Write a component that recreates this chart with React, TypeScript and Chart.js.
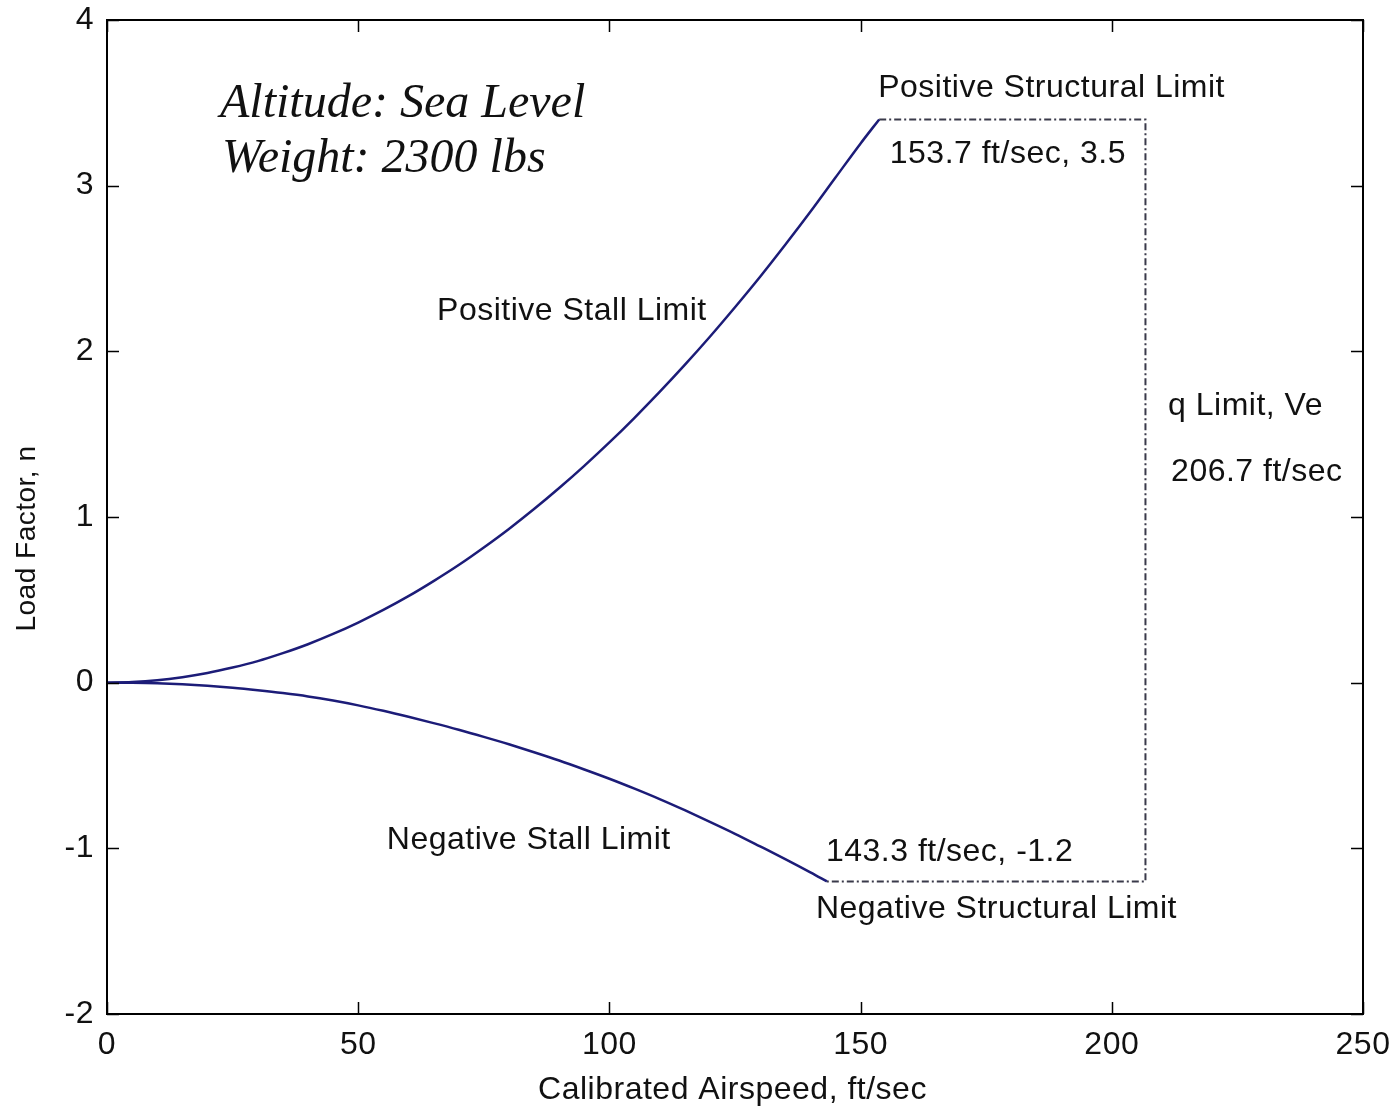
import React, { useEffect, useRef } from "react";
import { Chart, registerables } from "chart.js";

Chart.register(...registerables);

// Positive stall limit (airspeed ft/sec, load factor) as drawn in the picture
const posSpeed = [0, 5, 10, 15, 20, 25, 30, 35, 40, 45, 50, 55, 60, 65, 70, 75, 80, 85, 90, 95, 100, 105, 110, 115, 120, 125, 130, 135, 140, 145, 150, 153.7];
const posLoad = [0, 0.004, 0.0145, 0.033, 0.058, 0.091, 0.13, 0.178, 0.232, 0.294, 0.363, 0.439, 0.522, 0.613, 0.71, 0.816, 0.928, 1.048, 1.175, 1.309, 1.45, 1.599, 1.755, 1.918, 2.088, 2.266, 2.45, 2.643, 2.842, 3.049, 3.255, 3.4];

// Negative stall limit
const negSpeed = [0, 5, 10, 15, 20, 25, 30, 35, 40, 45, 50, 55, 60, 65, 70, 75, 80, 85, 90, 95, 100, 105, 110, 115, 120, 125, 130, 135, 140, 143.3];
const negLoad = [0, -0.001, -0.004, -0.01, -0.019, -0.031, -0.046, -0.063, -0.083, -0.108, -0.137, -0.17, -0.206, -0.244, -0.284, -0.327, -0.372, -0.42, -0.47, -0.524, -0.58, -0.64, -0.703, -0.77, -0.84, -0.912, -0.988, -1.065, -1.145, -1.2];

// Structural / q limit envelope
const limSpeed = [153.7, 206.7, 206.7, 143.3];
const limLoad = [3.4, 3.4, -1.2, -1.2];

const xTicks = [0, 50, 100, 150, 200, 250];
const yTicks = [-2, -1, 0, 1, 2, 3, 4];

// Annotation labels (data coordinates of left edge / vertical middle)
const labelTexts = [
  "Positive Structural Limit",
  "153.7 ft/sec, 3.5",
  "Positive Stall Limit",
  "q Limit, Ve",
  "206.7 ft/sec",
  "Negative Stall Limit",
  "143.3 ft/sec, -1.2",
  "Negative Structural Limit",
];
const labelX = [153.5, 155.8, 65.7, 211.2, 211.8, 55.7, 143.1, 141.1];
const labelY = [3.59, 3.19, 2.245, 1.666, 1.268, -0.948, -1.026, -1.37];

const noteTexts = ["Altitude: Sea Level", "Weight: 2300 lbs"];
const noteX = [22.5, 22.9];
const noteY = [3.49, 3.157];

const yTitle = "Load Factor, n";
const xTitle = "Calibrated Airspeed, ft/sec";

const SANS = "'Liberation Sans', Arial, sans-serif";
const SERIF = "'Liberation Serif', 'Times New Roman', serif";

const framePlugin = {
  id: "frame",
  beforeDraw(chart: any) {
    chart.ctx.letterSpacing = "0.5px";
  },
  afterDatasetsDraw(chart: any) {
    const { ctx, chartArea: a, scales } = chart;
    const xs = scales.x;
    const ys = scales.y;
    ctx.save();
    ctx.strokeStyle = "#000";
    ctx.lineWidth = 2;
    ctx.strokeRect(a.left, a.top, a.right - a.left, a.bottom - a.top);
    const L = 12;
    ctx.lineWidth = 1.5;
    ctx.beginPath();
    xTicks.forEach((v) => {
      const px = Math.round(xs.getPixelForValue(v)) + 0.5;
      ctx.moveTo(px, a.bottom);
      ctx.lineTo(px, a.bottom - L);
      ctx.moveTo(px, a.top);
      ctx.lineTo(px, a.top + L);
    });
    yTicks.forEach((v) => {
      const py = Math.round(ys.getPixelForValue(v)) + 0.5;
      ctx.moveTo(a.left, py);
      ctx.lineTo(a.left + L, py);
      ctx.moveTo(a.right, py);
      ctx.lineTo(a.right - L, py);
    });
    ctx.stroke();

    ctx.fillStyle = "#111";
    ctx.textBaseline = "middle";
    ctx.textAlign = "left";
    ctx.letterSpacing = "0.5px";
    ctx.font = `32px ${SANS}`;
    labelTexts.forEach((t, i) => {
      ctx.fillText(t, xs.getPixelForValue(labelX[i]), ys.getPixelForValue(labelY[i]));
    });
    ctx.letterSpacing = "0px";
    ctx.font = `italic 48px ${SERIF}`;
    noteTexts.forEach((t, i) => {
      ctx.fillText(t, xs.getPixelForValue(noteX[i]), ys.getPixelForValue(noteY[i]));
    });

    // axis titles
    ctx.letterSpacing = "0.5px";
    ctx.font = `28px ${SANS}`;
    ctx.textAlign = "center";
    ctx.save();
    ctx.translate(27, ys.getPixelForValue(0.87));
    ctx.rotate(-Math.PI / 2);
    ctx.fillText(yTitle, 0, 0);
    ctx.restore();
    ctx.font = `32px ${SANS}`;
    ctx.fillText(xTitle, xs.getPixelForValue(124.5), 1090);
    ctx.restore();
  },
};

export default function App() {
  const ref = useRef<HTMLCanvasElement | null>(null);
  useEffect(() => {
    if (!ref.current) return;
    const toPts = (xs: number[], ys: number[]) => xs.map((x, i) => ({ x, y: ys[i] }));
    const chart = new Chart(ref.current, {
      type: "line",
      data: {
        datasets: [
          {
            data: toPts(posSpeed, posLoad),
            borderColor: "#1c1c78",
            borderWidth: 2.5,
            pointRadius: 0,
            cubicInterpolationMode: "monotone",
          },
          {
            data: toPts(negSpeed, negLoad),
            borderColor: "#1c1c78",
            borderWidth: 2.5,
            pointRadius: 0,
            cubicInterpolationMode: "monotone",
          },
          {
            data: toPts(limSpeed, limLoad),
            borderColor: "#3a3a4a",
            borderWidth: 2,
            borderDash: [7, 3, 2, 3],
            pointRadius: 0,
            tension: 0,
          },
        ],
      },
      options: {
        animation: false,
        responsive: false,
        maintainAspectRatio: false,
        layout: { padding: { top: 20, right: 36, left: 0, bottom: 0 } },
        plugins: { legend: { display: false }, tooltip: { enabled: false } },
        scales: {
          x: {
            type: "linear",
            min: 0,
            max: 250,
            afterBuildTicks: (s: any) => {
              s.ticks = xTicks.map((v) => ({ value: v }));
            },
            afterFit: (s: any) => {
              s.height = 95;
              s.paddingLeft = 0;
              s.paddingRight = 0;
            },
            grid: { display: false, drawTicks: false },
            border: { display: false },
            ticks: { color: "#111", font: { family: SANS, size: 32 }, padding: 12, maxRotation: 0 },
          },
          y: {
            type: "linear",
            min: -2,
            max: 4,
            afterBuildTicks: (s: any) => {
              s.ticks = yTicks.map((v) => ({ value: v }));
            },
            afterFit: (s: any) => {
              s.width = 107;
              s.paddingTop = 0;
              s.paddingBottom = 0;
            },
            grid: { display: false, drawTicks: false },
            border: { display: false },
            ticks: { color: "#111", font: { family: SANS, size: 32 }, padding: 13 },
          },
        },
      },
      plugins: [framePlugin],
    } as any);
    return () => chart.destroy();
  }, []);
  return (
    <div style={{ position: "absolute", left: 0, top: 0, width: 1399, height: 1109, background: "#fff" }}>
      <canvas ref={ref} width={1399} height={1109} style={{ width: 1399, height: 1109 }} />
    </div>
  );
}
